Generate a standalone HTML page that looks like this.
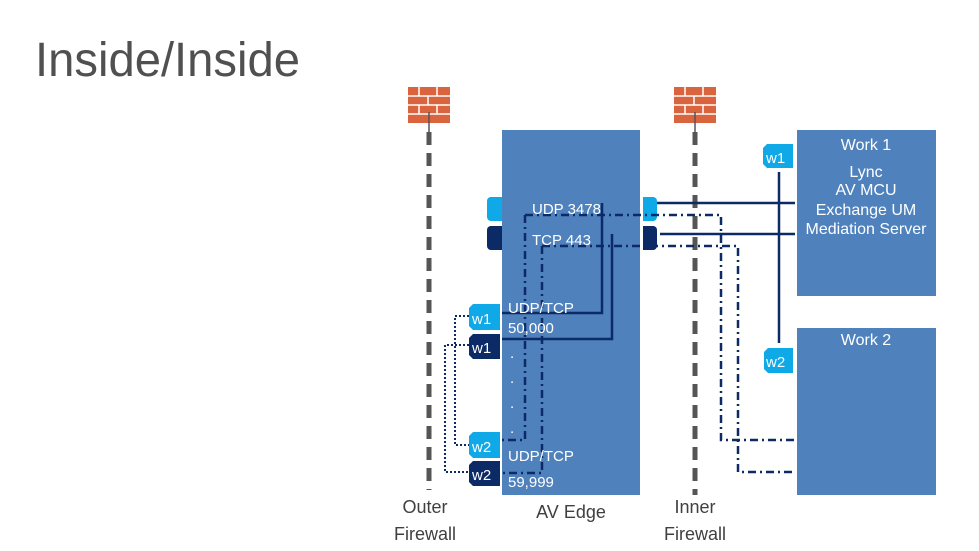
<!DOCTYPE html>
<html><head><meta charset="utf-8"><style>html,body{margin:0;padding:0;background:#fff}svg{display:block}</style></head><body>
<svg width="979" height="551" viewBox="0 0 979 551" xmlns="http://www.w3.org/2000/svg" font-family="Liberation Sans, sans-serif">
<text x="35" y="76" font-size="48" fill="#505050" textLength="265" lengthAdjust="spacingAndGlyphs">Inside/Inside</text>
<!-- firewalls -->
<g id="fw1">
<rect x="408" y="87" width="42" height="36" fill="#d9643d"/>
<g stroke="#fff" stroke-width="1.5">
<line x1="408" y1="96" x2="450" y2="96"/><line x1="408" y1="105" x2="450" y2="105"/><line x1="408" y1="114" x2="450" y2="114"/>
<line x1="419" y1="87" x2="419" y2="96"/><line x1="437" y1="87" x2="437" y2="96"/>
<line x1="428" y1="96" x2="428" y2="105"/><line x1="419" y1="105" x2="419" y2="114"/><line x1="437" y1="105" x2="437" y2="114"/>
</g></g>
<use href="#fw1" transform="translate(266,0)"/>
<line x1="429" y1="112" x2="429" y2="132" stroke="#555" stroke-width="1.5"/>
<line x1="695" y1="112" x2="695" y2="132" stroke="#555" stroke-width="1.5"/>
<line x1="429" y1="132" x2="429" y2="490" stroke="#555" stroke-width="5" stroke-dasharray="13,8"/>
<line x1="695" y1="132" x2="695" y2="495" stroke="#555" stroke-width="5" stroke-dasharray="13,8"/>
<!-- boxes -->
<rect x="502" y="130" width="138" height="365" fill="#4f81bd"/>
<rect x="797" y="130" width="139" height="166" fill="#4f81bd"/>
<rect x="797" y="328" width="139" height="167" fill="#4f81bd"/>
<!-- tags -->
<path d="M491 197h11v24h-11a4 4 0 0 1-4-4v-16a4 4 0 0 1 4-4z" fill="#10a9e8"/>
<path d="M491 226h11v24h-11a4 4 0 0 1-4-4v-16a4 4 0 0 1 4-4z" fill="#0b2a66"/>
<path d="M643 197h10a4 4 0 0 1 4 4v16a4 4 0 0 1-4 4h-10z" fill="#10a9e8"/>
<path d="M643 226h10a4 4 0 0 1 4 4v16a4 4 0 0 1-4 4h-10z" fill="#0b2a66"/>
<g font-size="15" fill="#fff">
<path d="M473 304h27v26h-27l-4-4v-18z" fill="#10a9e8"/><text x="472" y="324">w1</text>
<path d="M473 334h27v25h-27l-4-4v-17z" fill="#0b2a66"/><text x="472" y="353">w1</text>
<path d="M473 432h27v26h-27l-4-4v-18z" fill="#10a9e8"/><text x="472" y="452">w2</text>
<path d="M473 461h27v25h-27l-4-4v-17z" fill="#0b2a66"/><text x="472" y="480">w2</text>
<path d="M767 144h26v24h-26l-4-4v-16z" fill="#10a9e8"/><text x="766" y="163">w1</text>
<path d="M768 348h25v25h-25l-4-4v-17z" fill="#10a9e8"/><text x="766" y="367">w2</text>
</g>
<!-- connectors -->
<g fill="none" stroke="#0b2a66" stroke-width="2.5">
<path d="M657 203H795M602 203V313H502"/>
<path d="M660 234H795M612 234V339H502"/>
<path d="M779 172V343"/>
</g>
<g fill="none" stroke="#0b2a66" stroke-width="2.5" stroke-dasharray="8,4,2,4">
<path d="M525 215H721V440H795M525 215V440H502"/>
<path d="M542 246H738V472H795M542 246V473H502"/>
</g>
<g fill="none" stroke="#0b2a66" stroke-width="2" stroke-dasharray="2,2">
<path d="M469 316H455V445H469"/>
<path d="M469 345H445V472H469"/>
</g>
<!-- labels -->
<g font-size="15" fill="#fff">
<text x="532" y="214">UDP 3478</text>
<text x="532" y="245">TCP 443</text>
<text x="508" y="313">UDP/TCP</text>
<text x="508" y="333">50,000</text>
<text x="510" y="358">.</text><text x="510" y="383">.</text><text x="510" y="408">.</text><text x="510" y="433">.</text>
<text x="508" y="461">UDP/TCP</text>
<text x="508" y="487">59,999</text>
</g>
<g font-size="16" fill="#fff" text-anchor="middle">
<text x="866" y="150">Work 1</text>
<text x="866" y="177">Lync</text>
<text x="866" y="195">AV MCU</text>
<text x="866" y="215">Exchange UM</text>
<text x="866" y="234">Mediation Server</text>
<text x="866" y="345">Work 2</text>
</g>
<g font-size="18" fill="#404040" text-anchor="middle">
<text x="425" y="513">Outer</text><text x="425" y="540">Firewall</text>
<text x="571" y="518">AV Edge</text>
<text x="695" y="513">Inner</text><text x="695" y="540">Firewall</text>
</g>
</svg>
</body></html>
